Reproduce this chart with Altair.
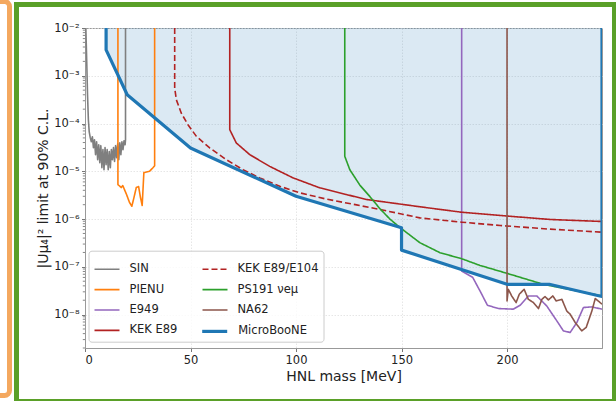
import altair as alt
import pandas as pd

# ---------------- data ----------------
sin_m = [0.4, 0.8, 1.2, 1.6, 2.0, 2.5, 3.0, 3.5, 4.0, 4.5, 5.0, 5.5, 6.0, 6.5, 7.0, 7.5, 8.0, 8.5,
         9.0, 9.5, 10.0, 10.5, 11.0, 11.5, 12.0, 12.5, 13.0, 13.5, 14.0, 14.5, 15.0, 15.5, 16.0,
         16.5, 17.0, 17.5, 18.0, 18.5, 19.0, 19.2, 19.2]
sin_u = [1e-2, 2.15e-3, 4.0e-4, 1.2e-4, 6.7e-5, 5.05e-5, 4.17e-5, 5.3e-5, 3.13e-5, 4.59e-5, 2.23e-5,
         4.17e-5, 1.75e-5, 3.6e-5, 1.52e-5, 3.44e-5, 1.19e-5, 2.84e-5, 1.08e-5, 3.13e-5, 1.38e-5,
         2.84e-5, 1.08e-5, 2.58e-5, 1.19e-5, 2.84e-5, 1.75e-5, 3.13e-5, 1.6e-5, 3.44e-5, 1.93e-5,
         3.78e-5, 1.75e-5, 3.97e-5, 2.23e-5, 4.17e-5, 2.84e-5, 4.37e-5, 3.6e-5, 4.59e-5, 1e-2]

pienu_m = [15.6, 15.6, 17.2, 17.9, 19.7, 21.1, 22.2, 23.2, 24.3, 25.4, 26.3, 27.1, 27.9, 30.6, 32.2, 33.0, 33.0]
pienu_u = [1e-2, 5.27e-6, 4.57e-6, 5.03e-6, 3.26e-6, 2.22e-6, 1.86e-6, 2.82e-6, 4.57e-6, 4.80e-6,
           2.82e-6, 1.92e-6, 9.4e-6, 1.0e-5, 1.19e-5, 1.31e-5, 1e-2]

e949_m = [178.5, 178.5, 183.7, 187.2, 190.7, 195.9, 203.0, 206.2, 210.1, 214.1, 218.8, 223.6, 226.7,
          229.9, 233.1, 236.2, 240.2, 245.0]
e949_u = [1e-2, 8.17e-8, 6.04e-8, 3.13e-8, 1.57e-8, 1.34e-8, 1.30e-8, 1.57e-8, 2.46e-8, 2.46e-8,
          1.52e-8, 7.39e-9, 4.57e-9, 4.23e-9, 6.84e-9, 1.41e-8, 1.45e-8, 1.30e-8]

kek_m = [68.6, 68.6, 71.7, 78.1, 87.5, 98.6, 111.3, 123.9, 133.4, 158.7, 178.5, 196.7, 220.4, 245.0]
kek_u = [1e-2, 7.43e-5, 3.92e-5, 2.23e-5, 1.27e-5, 7.28e-6, 4.50e-6, 3.26e-6, 2.57e-6, 1.81e-6,
         1.39e-6, 1.19e-6, 9.81e-7, 8.9e-7]

kek104_m = [42.5, 42.5, 43.3, 45.6, 48.8, 52.8, 59.1, 67.0, 74.9, 82.8, 92.3, 101.8, 114.4, 128.7,
            139.7, 158.7, 178.5, 196.7, 220.4, 245.0]
kek104_u = [1e-2, 5.5e-4, 3.14e-4, 1.66e-4, 9.44e-5, 5.38e-5, 3.08e-5, 1.75e-5, 1.08e-5, 7.28e-6,
            4.86e-6, 3.54e-6, 2.62e-6, 1.98e-6, 1.59e-6, 1.06e-6, 8.61e-7, 7.35e-7, 6.15e-7, 5.32e-7]

ps191_m = [123.1, 123.1, 125.5, 130.3, 135.0, 139.7, 144.5, 149.2, 158.7, 168.2, 178.5, 187.2, 200.0,
           217.2, 245.0]
ps191_u = [1e-2, 2.06e-5, 1.08e-5, 5.1e-6, 2.96e-6, 1.66e-6, 1.0e-6, 6.68e-7, 3.20e-7, 1.98e-7,
           1.48e-7, 1.07e-7, 7.31e-8, 4.31e-8, 2.46e-8]

na62_m = [200.0, 200.0, 200.6, 202.2, 204.3, 205.8, 208.1, 210.1, 212.5, 214.9, 216.5, 218.0, 219.6,
          221.7, 223.3, 226.0, 228.3, 229.9, 232.3, 235.4, 237.5, 240.2, 241.8, 244.1, 245.0]
na62_u = [1e-2, 1.93e-8, 3.39e-8, 2.46e-8, 1.79e-8, 2.67e-8, 3.39e-8, 2.09e-8, 1.79e-8, 1.34e-8,
          2.09e-8, 2.39e-8, 2.03e-8, 2.46e-8, 1.93e-8, 2.09e-8, 1.19e-8, 1.02e-8, 6.84e-9, 4.57e-9,
          5.38e-9, 1.19e-8, 2.17e-8, 1.79e-8, 1.65e-8]

ub_m = [10.0, 10.0, 20.0, 50.0, 100.0, 150.0, 150.0, 200.0, 220.0, 245.0, 245.0]
ub_u = [1e-2, 3.48e-3, 4.0e-4, 3.08e-5, 3.0e-6, 6.57e-7, 2.24e-7, 4.31e-8, 4.31e-8, 2.39e-8, 1e-2]

x_ticks = [0, 50, 100, 150, 200]
y_ticks = [1e-8, 1e-7, 1e-6, 1e-5, 1e-4, 1e-3, 1e-2]

series = [
    ("SIN", sin_m, sin_u),
    ("PIENU", pienu_m, pienu_u),
    ("E949", e949_m, e949_u),
    ("KEK E89", kek_m, kek_u),
    ("KEK E89/E104", kek104_m, kek104_u),
    ("PS191 νeμ", ps191_m, ps191_u),
    ("NA62", na62_m, na62_u),
]

rows = []
for name, ms, us in series:
    for i, (m, u) in enumerate(zip(ms, us)):
        rows.append({"exp": name, "m": m, "u": u, "i": i})
df = pd.DataFrame(rows)

ub_df = pd.DataFrame({"mb": ["MicroBooNE"] * len(ub_m), "m": ub_m, "u": ub_u,
                      "top": [1e-2] * len(ub_m), "i": list(range(len(ub_m)))})

minor = [d * 10.0 ** k for k in range(-9, -2) for d in range(2, 10)]
minor = [v for v in minor if 2e-9 <= v <= 1e-2]
minor_df = pd.DataFrame({"u": minor})

legend_order = [s[0] for s in series]
color_map = {"SIN": "#7f7f7f", "PIENU": "#ff7f0e", "E949": "#9467bd", "KEK E89": "#b22222",
             "KEK E89/E104": "#b22222", "PS191 νeμ": "#2ca02c", "NA62": "#8c564b"}
dash_map = {k: [1, 0] for k in legend_order}
dash_map["KEK E89/E104"] = [6, 3]

FONT = "DejaVu Sans"

xs = alt.X("m:Q", scale=alt.Scale(domain=[0, 245], nice=False, zero=False),
           axis=alt.Axis(values=x_ticks, title="HNL mass [MeV]", format="d", titlePadding=4))
ys = alt.Y("u:Q", scale=alt.Scale(type="log", domain=[2e-9, 1e-2], nice=False),
           axis=alt.Axis(values=y_ticks, title="|Uμ₄|² limit at 90% C.L.", titlePadding=3,
                         labelExpr="'10⁻' + ['⁰','¹','²','³','⁴','⁵','⁶','⁷','⁸','⁹'][round(-log(datum.value)/LN10)]"))

dummy = pd.DataFrame({"k": [0]})
green = alt.Chart(dummy).mark_rect(fillOpacity=0, stroke="#5aa028", strokeWidth=5).encode(
    x=alt.value(-68.5), x2=alt.value(529.5), y=alt.value(-23.5), y2=alt.value(373.5))
orange = alt.Chart(dummy).mark_rect(fillOpacity=0, stroke="#f4a85f", strokeWidth=5, cornerRadius=5).encode(
    x=alt.value(-300), x2=alt.value(-75.5), y=alt.value(-26.5), y2=alt.value(367.5))

area = alt.Chart(ub_df).mark_area(fill="#1f77b4", fillOpacity=0.16, orient="vertical").encode(
    x=alt.X("m:Q"), y=alt.Y("u:Q"), y2=alt.Y2("top:Q"))

minor_ticks = alt.Chart(minor_df).mark_rule(color="#555555", strokeWidth=0.7).encode(
    y=ys, x=alt.value(-2.2), x2=alt.value(0))

lines = alt.Chart(df).mark_line(clip=True, strokeJoin="round", strokeWidth=1.6).encode(
    x=xs, y=ys,
    color=alt.Color("exp:N", scale=alt.Scale(domain=legend_order, range=[color_map[k] for k in legend_order]),
                    legend=alt.Legend(title=None, orient="none", legendX=3.5, legendY=222.7, columns=2,
                                      symbolStrokeWidth=1.6)),
    strokeDash=alt.StrokeDash("exp:N", scale=alt.Scale(domain=legend_order, range=[dash_map[k] for k in legend_order]),
                              legend=alt.Legend(title=None, orient="none", legendX=3.5, legendY=222.7, columns=2,
                                                symbolStrokeWidth=1.6)),
    order=alt.Order("i:Q"),
)

ub_line = alt.Chart(ub_df).mark_line(clip=True, strokeJoin="round", strokeWidth=3.2).encode(
    x=xs, y=ys,
    stroke=alt.Stroke("mb:N", scale=alt.Scale(domain=["MicroBooNE"], range=["#1f77b4"]),
                      legend=alt.Legend(title=None, orient="none", legendX=110.2, legendY=283.9,
                                        symbolStrokeWidth=3.2, fillColor="rgba(0,0,0,0)",
                                        strokeColor="rgba(0,0,0,0)", zindex=2)),
    order=alt.Order("i:Q"),
)

chart = alt.layer(orange, green, area, minor_ticks, lines, ub_line).properties(
    width=517, height=320,
    autosize=alt.AutoSizeParams(type="none"),
    padding={"left": 85, "top": 28, "right": 14, "bottom": 53},
    background="white",
).configure_axis(
    labelFont=FONT, labelFontSize=11.5, labelColor="#222222",
    titleFont=FONT, titleFontSize=14, titleFontWeight="normal", titleColor="#222222",
    domainColor="#999999", tickColor="#777777", tickSize=3.5, labelPadding=2.5,
    gridColor="#e0e0e0", gridDash=[1.5, 1.5], gridWidth=0.8,
).configure_view(stroke="#999999", strokeWidth=1).configure_legend(
    symbolType="stroke", symbolSize=625,
    labelFont=FONT, labelFontSize=11.5, labelColor="#222222", labelOffset=9,
    columnPadding=21, rowPadding=1.4, padding=5,
    fillColor="rgba(255,255,255,0.8)", strokeColor="#cccccc", cornerRadius=3,
)

chart.save("out.html", embed_options={"renderer": "svg", "actions": False})
